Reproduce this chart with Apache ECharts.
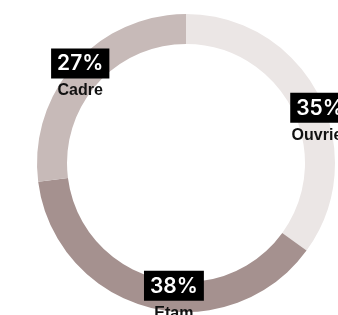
<!DOCTYPE html>
<html>
<head>
<meta charset="utf-8">
<script src="https://cdn.jsdelivr.net/npm/echarts@6/dist/echarts.min.js"></script>
<style>
  html, body { margin: 0; padding: 0; background: #fff; }
  #chart { width: 338px; height: 315px; }
</style>
</head>
<body>
<div id="chart"></div>
<script>
var categories = ['Ouvrier', 'Etam', 'Cadre']
var shares = [35, 38, 27]
var colors = ['#ebe6e5', '#a5918f', '#c7bab8']
// nudges so labels sit where the original put them
var labelNudge = [[12, 23.5], [22, 6.5], [-3, 7.5]]

var myChart = echarts.init(document.getElementById('chart'))

var data = []
for (var i = 0; i < categories.length; i++) {
    data.push({
        name: categories[i],
        value: shares[i],
        itemStyle: { color: colors[i] },
        label: { offset: labelNudge[i] }
    })
}

var option = {
    animation: false,
    series: [
        {
            type: 'pie',
            center: [186, 163],
            radius: [119, 149],
            startAngle: 90,
            clockwise: true,
            avoidLabelOverlap: false,
            labelLine: { show: false },
            emphasis: { disabled: true },
            label: {
                show: true,
                position: 'inside',
                formatter: '{p|{c}%}\n{n|{b}}',
                rich: {
                    p: {
                        backgroundColor: '#000',
                        color: '#fff',
                        fontFamily: 'Inter',
                        fontWeight: 600,
                        fontSize: 21,
                        lineHeight: 22,
                        padding: [5, 6, 4, 6],
                        align: 'center'
                    },
                    n: {
                        color: '#111',
                        fontFamily: 'Liberation Sans',
                        fontWeight: 'bold',
                        fontSize: 16,
                        lineHeight: 33,
                        align: 'center'
                    }
                }
            },
            data: data
        }
    ]
}

myChart.setOption(option)
</script>
</body>
</html>
